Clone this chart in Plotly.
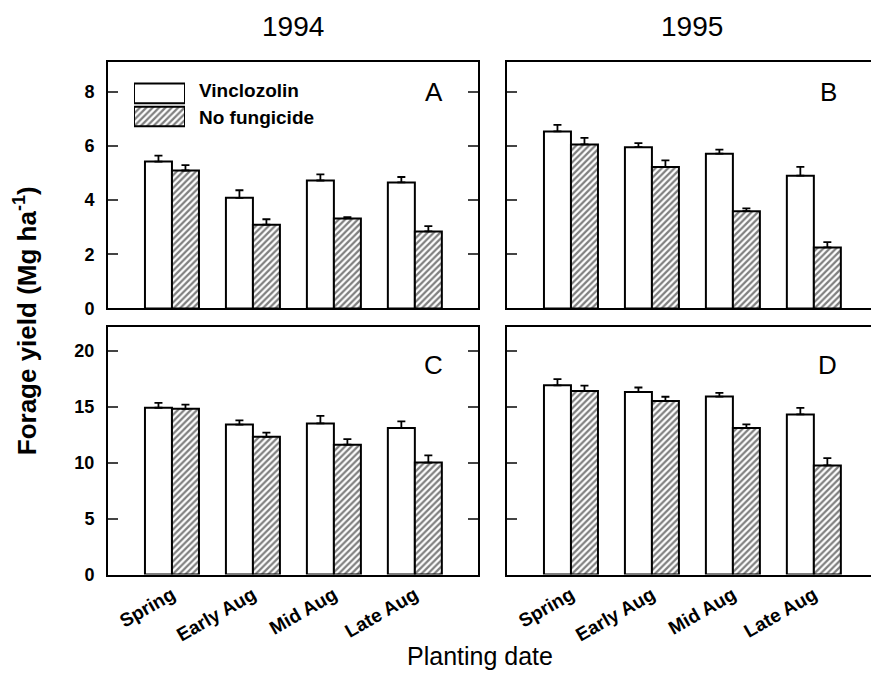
import plotly.graph_objects as go

# Planting dates (x categories)
dates = ["Spring", "Early Aug", "Mid Aug", "Late Aug"]
series_names = ["Vinclozolin", "No fungicide"]

# Panel A: 1994 forage yield, first harvest (Mg/ha)
a_vinc = [5.42, 4.08, 4.72, 4.65]
a_vinc_err = [0.22, 0.28, 0.23, 0.20]
a_none = [5.09, 3.09, 3.32, 2.84]
a_none_err = [0.20, 0.20, 0.05, 0.20]

# Panel B: 1995 forage yield, first harvest
b_vinc = [6.53, 5.95, 5.71, 4.90]
b_vinc_err = [0.24, 0.15, 0.15, 0.32]
b_none = [6.05, 5.22, 3.59, 2.25]
b_none_err = [0.24, 0.24, 0.10, 0.20]

# Panel C: 1994 forage yield, total
c_vinc = [14.9, 13.4, 13.5, 13.1]
c_vinc_err = [0.44, 0.38, 0.68, 0.58]
c_none = [14.8, 12.3, 11.6, 10.0]
c_none_err = [0.38, 0.38, 0.50, 0.64]

# Panel D: 1995 forage yield, total
d_vinc = [16.9, 16.3, 15.9, 14.3]
d_vinc_err = [0.56, 0.41, 0.32, 0.59]
d_none = [16.4, 15.5, 13.1, 9.75]
d_none_err = [0.47, 0.38, 0.32, 0.65]

panel_letters = ["A", "B", "C", "D"]
year_titles = ["1994", "1995"]
top_ticks = [0, 2, 4, 6, 8]
bottom_ticks = [0, 5, 10, 15, 20]

FONT = "Liberation Sans, Arial, sans-serif"
W, H = 871, 686

xpos = list(range(len(dates)))

def px_x(v):
    return v / W

def px_y(v):
    return 1 - v / H

# Panel geometry (paper fractions)
dom_x_left = [px_x(108), px_x(478)]
dom_x_right = [px_x(507), 1.0]
dom_x_right_full = [px_x(507), px_x(877)]
dom_y_top = [px_y(313), px_y(63)]
dom_y_bot = [px_y(583), px_y(332)]
units_per_px = 4.57 / 370.0
x_range_left = [-0.79, 3.78]
x_range_right = [-0.79, -0.79 + (871 - 507) * units_per_px]

vinc_marker = dict(color="white", line=dict(color="black", width=2))
none_marker = dict(color="white", line=dict(color="black", width=2),
                   pattern=dict(shape="/", fgcolor="black", bgcolor="white",
                                size=4.5, solidity=0.5))

fig = go.Figure()

panels = [
    (a_vinc, a_vinc_err, a_none, a_none_err, "x", "y"),
    (b_vinc, b_vinc_err, b_none, b_none_err, "x2", "y2"),
    (c_vinc, c_vinc_err, c_none, c_none_err, "x3", "y3"),
    (d_vinc, d_vinc_err, d_none, d_none_err, "x4", "y4"),
]

for vinc, verr, none, nerr, xa, ya in panels:
    for vals, errs, marker, name in [(vinc, verr, vinc_marker, series_names[0]),
                                     (none, nerr, none_marker, series_names[1])]:
        fig.add_trace(go.Bar(
            x=xpos, y=vals, name=name, marker=marker, showlegend=False,
            xaxis=xa, yaxis=ya,
            error_y=dict(type="data", array=errs, arrayminus=[0] * len(errs),
                         symmetric=False, color="black", thickness=1.8, width=4),
        ))

# Legend swatches drawn as bars on a small hidden axis pair
fig.add_trace(go.Bar(x=[1], y=[0], orientation="h", marker=vinc_marker,
                     width=0.85, showlegend=False, xaxis="x5", yaxis="y5"))
fig.add_trace(go.Bar(x=[1], y=[1], orientation="h", marker=none_marker,
                     width=0.85, showlegend=False, xaxis="x5", yaxis="y5"))

axis_common = dict(showline=True, linecolor="black", linewidth=2,
                   showgrid=False, zeroline=False)

xa_common = dict(axis_common, tickmode="array", tickvals=xpos, ticks="",
                 mirror=True)

ya_common = dict(axis_common, ticks="inside", ticklen=10, tickwidth=1.8,
                 ticklabelstandoff=8, tickfont=dict(size=18, weight="bold"))

fig.update_layout(
    width=W, height=H,
    margin=dict(l=0, r=0, t=0, b=0),
    paper_bgcolor="white", plot_bgcolor="white",
    barmode="group", bargap=0.333, bargroupgap=0,
    font=dict(family=FONT, color="black", size=18),
    showlegend=False,
    xaxis=dict(xa_common, domain=dom_x_left, range=x_range_left,
               anchor="y", showticklabels=False),
    xaxis2=dict(xa_common, domain=dom_x_right, range=x_range_right,
                anchor="y2", showticklabels=False),
    xaxis3=dict(xa_common, domain=dom_x_left, range=x_range_left,
                anchor="y3", ticktext=dates, tickangle=-30,
                tickfont=dict(size=19, weight="bold")),
    xaxis4=dict(xa_common, domain=dom_x_right, range=x_range_right,
                anchor="y4", ticktext=dates, tickangle=-30,
                tickfont=dict(size=19, weight="bold")),
    yaxis=dict(ya_common, domain=dom_y_top, range=[0, 9.09], anchor="x",
               tickvals=top_ticks, mirror="ticks"),
    yaxis2=dict(ya_common, domain=dom_y_top, range=[0, 9.09], anchor="x2",
                tickvals=top_ticks, mirror=False, showticklabels=False),
    yaxis3=dict(ya_common, domain=dom_y_bot, range=[0, 22.1], anchor="x3",
                tickvals=bottom_ticks, mirror="ticks"),
    yaxis4=dict(ya_common, domain=dom_y_bot, range=[0, 22.1], anchor="x4",
                tickvals=bottom_ticks, mirror=False, showticklabels=False),
    xaxis5=dict(domain=[px_x(134), px_x(185)], range=[0, 1], visible=False,
                anchor="y5", fixedrange=True),
    yaxis5=dict(domain=[px_y(130), px_y(83)], range=[1.5, -0.5], visible=False,
                anchor="x5", fixedrange=True),
)

annotations = []
# Year titles
for title, dom in zip(year_titles, [dom_x_left, dom_x_right_full]):
    annotations.append(dict(text=title, x=(dom[0] + dom[1]) / 2, y=px_y(27),
                            xref="paper", yref="paper", showarrow=False,
                            font=dict(size=28), xanchor="center", yanchor="middle"))
# Panel letters
letter_pos = [(445, 93), (839, 93), (445, 370), (839, 370)]
for letter, (lx, ly) in zip(panel_letters, letter_pos):
    annotations.append(dict(text=letter, x=px_x(lx), y=px_y(ly), xref="paper",
                            yref="paper", showarrow=False, font=dict(size=26),
                            xanchor="right", yanchor="middle"))
# Legend labels
for name, ly in zip(series_names, [92, 119]):
    annotations.append(dict(text=name, x=px_x(197), y=px_y(ly), xref="paper",
                            yref="paper", showarrow=False,
                            font=dict(size=19, weight="bold"),
                            xanchor="left", yanchor="middle"))
# Axis titles
annotations.append(dict(text="Forage yield (Mg ha<sup>-1</sup>)", x=px_x(25),
                        y=px_y(326), xref="paper", yref="paper", showarrow=False,
                        textangle=-90, font=dict(size=26, weight="bold"),
                        xanchor="center", yanchor="middle"))
annotations.append(dict(text="Planting date", x=px_x(480), y=px_y(666),
                        xref="paper", yref="paper", showarrow=False,
                        font=dict(size=25), xanchor="center", yanchor="middle"))
fig.update_layout(annotations=annotations)

fig.write_html("out.html")
